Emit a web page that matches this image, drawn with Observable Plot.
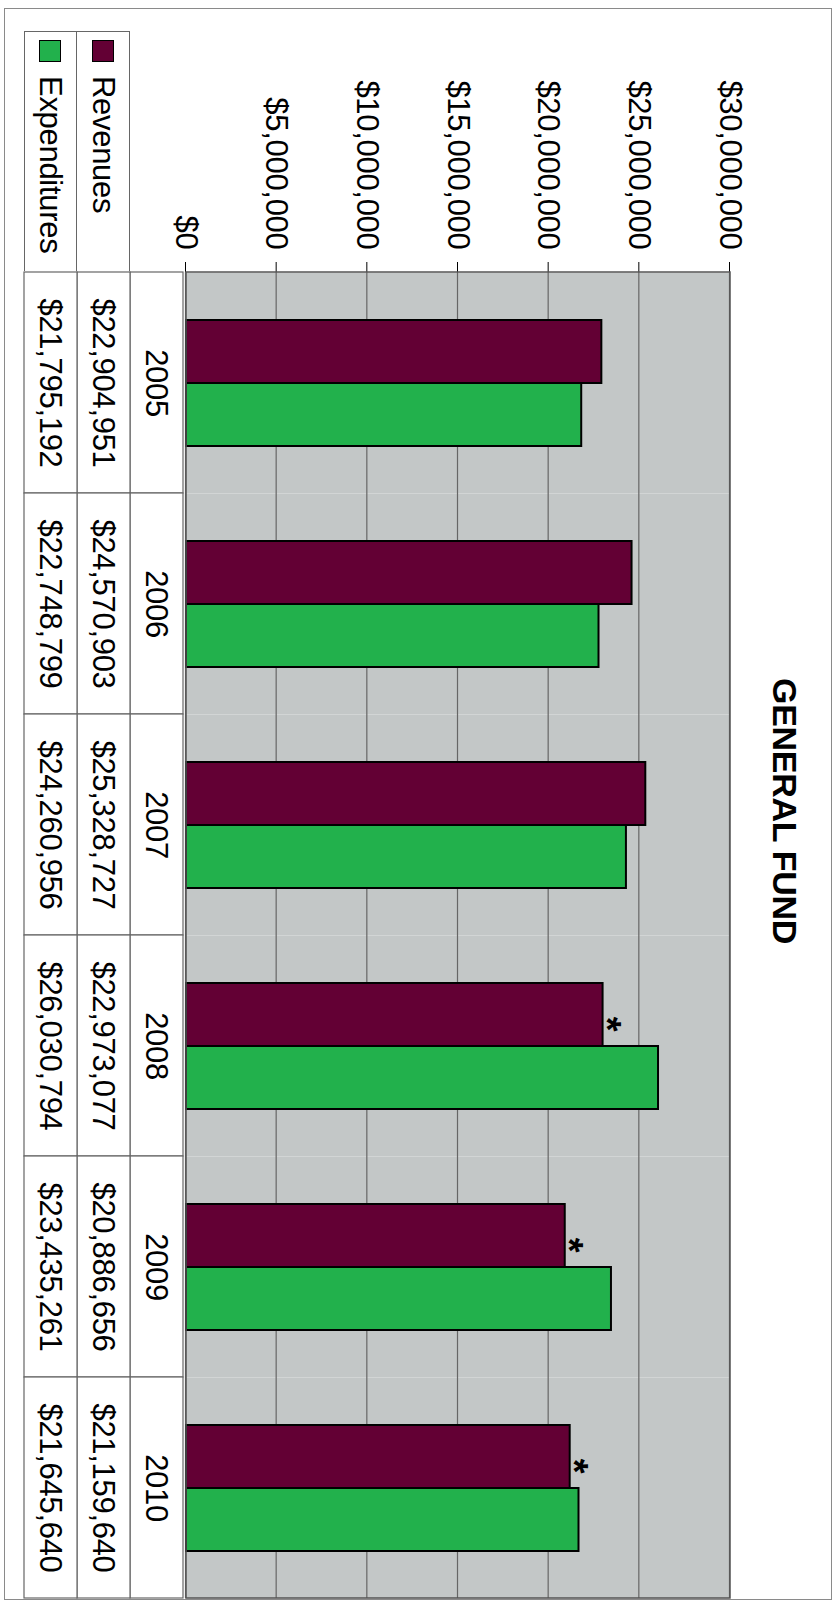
<!DOCTYPE html>
<html>
<head>
<meta charset="utf-8">
<script src="https://cdn.jsdelivr.net/npm/d3@7"></script>
<script src="https://cdn.jsdelivr.net/npm/@observablehq/plot@0.6"></script>
<style>
  html, body { margin: 0; padding: 0; background: #fff; width: 838px; height: 1604px; overflow: hidden; }
  #land {
    position: absolute; left: 0; top: 0; width: 1604px; height: 838px;
    transform-origin: 0 0; transform: translateX(838px) rotate(90deg);
    font-family: "Liberation Sans", Arial, sans-serif; background: #fff; color: #000;
  }
  #border { position: absolute; left: 8px; top: 6px; width: 1592px; height: 828px; box-sizing: border-box; border: 1.5px solid #8a8a8a; }
  #title { position: absolute; left: 678px; top: 36px; font-weight: bold; font-size: 34px; line-height: 34px; white-space: nowrap; letter-spacing: -0.3px; }
  #chart { position: absolute; left: 0; top: 0; width: 1604px; }
  #table { position: absolute; left: 0; top: 652px; width: 1604px; }
  #chart svg, #table svg { max-width: none; display: block; }
  #legend { position: absolute; left: 31px; top: 708px; width: 240px; height: 106px; box-sizing: border-box; border: 1.2px solid #666; border-right: none; background: #fff; }
  .lrow { height: 50%; box-sizing: border-box; display: flex; align-items: center; font-size: 31px; letter-spacing: -0.3px; }
  .lrow + .lrow { border-top: 1.2px solid #666; }
  .sw { width: 22px; height: 22px; box-sizing: border-box; border: 1.5px solid #000; margin-left: 8px; margin-right: 14px; flex: none; }
</style>
</head>
<body>
<div id="land">
  <div id="border"></div>
  <div id="title">GENERAL FUND</div>
  <div id="chart"></div>
  <div id="table"></div>
  <div id="legend"></div>
</div>
<script>
const years = [2005, 2006, 2007, 2008, 2009, 2010];
const revenues = [22904951, 24570903, 25328727, 22973077, 20886656, 21159640];
const expenditures = [21795192, 22748799, 24260956, 26030794, 23435261, 21645640];
const seriesNames = ["Revenues", "Expenditures"];
const seriesColors = ["#630034", "#22b14c"];
const flaggedYears = [2008, 2009, 2010];
const yTicks = [0, 5000000, 10000000, 15000000, 20000000, 25000000, 30000000];
const tableRows = ["year", "Revenues", "Expenditures"];

const fmt = d3.format("$,");
const font = "'Liberation Sans', Arial, sans-serif";

const bars = years.flatMap((y, i) => [
  {year: y, series: "Revenues", value: revenues[i]},
  {year: y, series: "Expenditures", value: expenditures[i]}
]);

const chart = Plot.plot({
  width: 1604,
  height: 656,
  marginLeft: 271,
  marginRight: 6,
  marginTop: 108,
  marginBottom: 4,
  style: {fontFamily: font, fontSize: "31px", background: "transparent", overflow: "visible", color: "#000", letterSpacing: "-0.3px"},
  facet: {data: bars, x: "year"},
  fx: {domain: years, padding: 0, axis: null},
  x: {domain: seriesNames, paddingInner: 0, paddingOuter: 0.74, axis: null},
  y: {domain: [0, 30000000], ticks: yTicks, tickFormat: fmt, tickSize: 10, tickPadding: 13, label: null},
  color: {domain: seriesNames, range: seriesColors},
  marks: [
    Plot.frame({fill: "#c3c7c7", stroke: "none"}),
    Plot.ruleY(yTicks, {stroke: "#666", strokeWidth: 1.2}),
    Plot.barY(bars, {x: "series", y: "value", fill: "series", stroke: "#000", strokeWidth: 2}),
    Plot.text(bars, {
      x: "series", y: "value",
      text: d => (d.series === "Revenues" && flaggedYears.includes(d.year)) ? "*" : "",
      dx: 9, dy: -4, fontSize: 38, fontWeight: "bold", fill: "#000"
    })
  ]
});
document.getElementById("chart").appendChild(chart);

// outline of the plotting area, placed with the plot's own scales
{
  const fxs = chart.scale("fx"), ys = chart.scale("y");
  const x0 = fxs.apply(years[0]);
  const x1 = fxs.apply(years[years.length - 1]) + fxs.bandwidth;
  const yTop = ys.apply(30000000), yBot = ys.apply(0);
  d3.select(chart).append("rect")
    .attr("x", x0).attr("y", yTop).attr("width", x1 - x0).attr("height", yBot - yTop)
    .attr("fill", "none").attr("stroke", "#555").attr("stroke-width", 1.5);
}

const cells = years.flatMap((y, i) => [
  {year: y, row: "year", label: String(y)},
  {year: y, row: "Revenues", label: fmt(revenues[i])},
  {year: y, row: "Expenditures", label: fmt(expenditures[i])}
]);

const table = Plot.plot({
  width: 1604,
  height: 163,
  marginLeft: 271,
  marginRight: 6,
  marginTop: 3,
  marginBottom: 1,
  style: {fontFamily: font, fontSize: "31px", background: "transparent", overflow: "visible", color: "#000", letterSpacing: "-0.3px"},
  x: {domain: years, padding: 0, axis: null},
  y: {domain: tableRows, padding: 0, axis: null},
  marks: [
    Plot.cell(cells, {x: "year", y: "row", fill: "#fff", stroke: "#666", strokeWidth: 1.2}),
    Plot.text(cells, {x: "year", y: "row", text: "label", fontSize: 31, fill: "#000"})
  ]
});
document.getElementById("table").appendChild(table);

// legend column of the data table
const legend = document.getElementById("legend");
seriesNames.forEach((name, i) => {
  const row = document.createElement("div");
  row.className = "lrow";
  const sw = document.createElement("div");
  sw.className = "sw";
  sw.style.background = seriesColors[i];
  const label = document.createElement("span");
  label.textContent = name;
  row.appendChild(sw);
  row.appendChild(label);
  legend.appendChild(row);
});
</script>
</body>
</html>
